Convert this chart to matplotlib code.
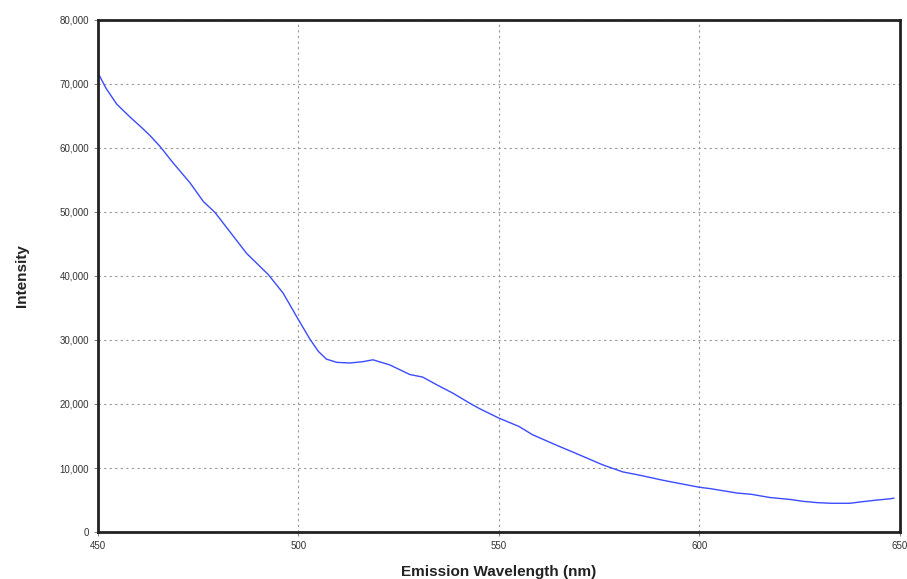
import matplotlib.pyplot as plt
import matplotlib.ticker as mtick

# emission spectrum
wavelength = [450, 452, 454.7, 458, 461, 463, 465.5, 468.8, 473, 476.3,
              479.2, 482.9, 487.1, 492.5, 496.2, 499.6, 502.9, 505, 507,
              509.6, 512.8, 516, 518.6, 522.8, 527.8, 531, 534.5, 538.5,
              542.8, 545.1, 550, 555, 558.4, 565, 569.2, 575.9, 580.9, 585,
              590.9, 595, 600, 602.6, 609.4, 613, 617.6, 622.6, 626, 629.4,
              633, 637.6, 640, 644.3, 647.6, 648.5]
intensity = [71700, 69300, 66800, 64800, 63100, 61900, 60200, 57600, 54500,
             51600, 49900, 46900, 43500, 40200, 37300, 33600, 30100, 28200,
             27000, 26500, 26400, 26600, 26900, 26100, 24600, 24200, 23000,
             21700, 20100, 19300, 17800, 16500, 15200, 13400, 12300, 10500,
             9400, 8900, 8100, 7600, 7000, 6800, 6100, 5900, 5400, 5100, 4800,
             4600, 4500, 4500, 4700, 5000, 5200, 5300]

x_ticks = [450, 500, 550, 600, 650]
y_ticks = [0, 10000, 20000, 30000, 40000, 50000, 60000, 70000, 80000]


def main():
    plt.rcParams['font.family'] = ['Liberation Sans', 'DejaVu Sans']
    fig = plt.figure(figsize=(9.07, 5.79), dpi=100)
    ax = fig.add_axes([0.108, 0.081, 0.884, 0.885])

    ax.plot(wavelength, intensity, color='#3b4bff', linewidth=1.0)

    ax.set_xlim(450, 650)
    ax.set_ylim(0, 80000)
    ax.set_xticks(x_ticks)
    ax.set_yticks(y_ticks)
    ax.yaxis.set_major_formatter(mtick.StrMethodFormatter('{x:,.0f}'))
    ax.tick_params(labelsize=7, length=3, width=0.8, color='#888888',
                   labelcolor='#333333')
    ax.grid(True, linestyle=(0, (2, 3)), color='#999999', linewidth=0.8)

    for side in ax.spines.values():
        side.set_linewidth(2)
        side.set_color('#222222')

    ax.set_xlabel('Emission Wavelength (nm)', fontsize=11, fontweight='bold',
                  color='#222222', labelpad=10)
    ax.set_ylabel('Intensity', fontsize=11, fontweight='bold',
                  color='#222222', labelpad=22)

    fig.savefig('out.png', dpi=100)


if __name__ == '__main__':
    main()
